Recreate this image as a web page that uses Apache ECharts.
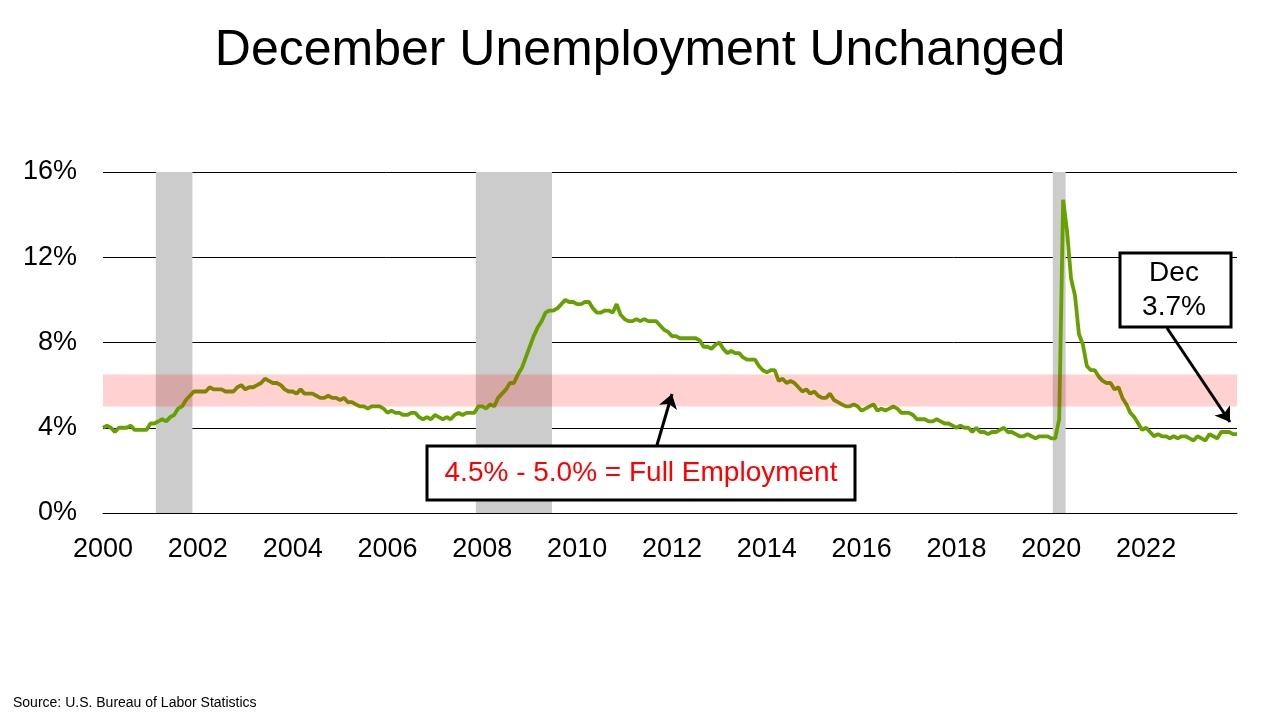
<!DOCTYPE html>
<html>
<head>
<meta charset="utf-8">
<title>December Unemployment Unchanged</title>
<script src="https://cdn.jsdelivr.net/npm/echarts@6/dist/echarts.min.js"></script>
<style>
  html, body { margin: 0; padding: 0; background: #fff; }
  #main { width: 1280px; height: 720px; }
</style>
</head>
<body>
<div id="main"></div>
<script>
// 月度失业率 2000-01 ~ 2023-12, %
var unrate = [
  4.0, 4.1, 4.0, 3.8, 4.0, 4.0, 4.0, 4.1, 3.9, 3.9, 3.9, 3.9, // 2000
  4.2, 4.2, 4.3, 4.4, 4.3, 4.5, 4.6, 4.9, 5.0, 5.3, 5.5, 5.7, // 2001
  5.7, 5.7, 5.7, 5.9, 5.8, 5.8, 5.8, 5.7, 5.7, 5.7, 5.9, 6.0, // 2002
  5.8, 5.9, 5.9, 6.0, 6.1, 6.3, 6.2, 6.1, 6.1, 6.0, 5.8, 5.7, // 2003
  5.7, 5.6, 5.8, 5.6, 5.6, 5.6, 5.5, 5.4, 5.4, 5.5, 5.4, 5.4, // 2004
  5.3, 5.4, 5.2, 5.2, 5.1, 5.0, 5.0, 4.9, 5.0, 5.0, 5.0, 4.9, // 2005
  4.7, 4.8, 4.7, 4.7, 4.6, 4.6, 4.7, 4.7, 4.5, 4.4, 4.5, 4.4, // 2006
  4.6, 4.5, 4.4, 4.5, 4.4, 4.6, 4.7, 4.6, 4.7, 4.7, 4.7, 5.0, // 2007
  5.0, 4.9, 5.1, 5.0, 5.4, 5.6, 5.8, 6.1, 6.1, 6.5, 6.8, 7.3, // 2008
  7.8, 8.3, 8.7, 9.0, 9.4, 9.5, 9.5, 9.6, 9.8, 10.0, 9.9, 9.9, // 2009
  9.8, 9.8, 9.9, 9.9, 9.6, 9.4, 9.4, 9.5, 9.5, 9.4, 9.8, 9.3, // 2010
  9.1, 9.0, 9.0, 9.1, 9.0, 9.1, 9.0, 9.0, 9.0, 8.8, 8.6, 8.5, // 2011
  8.3, 8.3, 8.2, 8.2, 8.2, 8.2, 8.2, 8.1, 7.8, 7.8, 7.7, 7.9, // 2012
  8.0, 7.7, 7.5, 7.6, 7.5, 7.5, 7.3, 7.2, 7.2, 7.2, 6.9, 6.7, // 2013
  6.6, 6.7, 6.7, 6.2, 6.3, 6.1, 6.2, 6.1, 5.9, 5.7, 5.8, 5.6, // 2014
  5.7, 5.5, 5.4, 5.4, 5.6, 5.3, 5.2, 5.1, 5.0, 5.0, 5.1, 5.0, // 2015
  4.8, 4.9, 5.0, 5.1, 4.8, 4.9, 4.8, 4.9, 5.0, 4.9, 4.7, 4.7, // 2016
  4.7, 4.6, 4.4, 4.4, 4.4, 4.3, 4.3, 4.4, 4.3, 4.2, 4.2, 4.1, // 2017
  4.0, 4.1, 4.0, 4.0, 3.8, 4.0, 3.8, 3.8, 3.7, 3.8, 3.8, 3.9, // 2018
  4.0, 3.8, 3.8, 3.7, 3.6, 3.6, 3.7, 3.6, 3.5, 3.6, 3.6, 3.6, // 2019
  3.5, 3.5, 4.4, 14.7, 13.2, 11.0, 10.2, 8.4, 7.9, 6.9, 6.7, 6.7, // 2020
  6.4, 6.2, 6.1, 6.1, 5.8, 5.9, 5.4, 5.1, 4.7, 4.5, 4.2, 3.9, // 2021
  4.0, 3.8, 3.6, 3.7, 3.6, 3.6, 3.5, 3.6, 3.5, 3.6, 3.6, 3.5, // 2022
  3.4, 3.6, 3.5, 3.4, 3.7, 3.6, 3.5, 3.8, 3.8, 3.8, 3.7, 3.7  // 2023
];
var firstYear = 2000, lastYear = 2023;
// 衰退期（起止月份）
var recessions = [['2001-03', '2001-11'], ['2007-12', '2009-06'], ['2020-02', '2020-04']];
var band = [5.0, 6.5]; // 粉色区间
var yTicks = { min: 0, max: 16, interval: 4 };

var months = [];
for (var y = firstYear; y <= lastYear; y++) {
  for (var m = 1; m <= 12; m++) {
    months.push(y + '-' + (m < 10 ? '0' + m : m));
  }
}
var recessionBars = months.map(function (mo) {
  for (var i = 0; i < recessions.length; i++) {
    if (mo >= recessions[i][0] && mo <= recessions[i][1]) return yTicks.max;
  }
  return '-';
});

var font = "'Liberation Sans', Arial, sans-serif";
var myChart = echarts.init(document.getElementById('main'));
var option = {
  animation: false,
  backgroundColor: '#ffffff',
  title: {
    text: 'December Unemployment Unchanged',
    left: 'center',
    top: 21,
    textStyle: { fontFamily: font, fontSize: 50, fontWeight: 'normal', color: '#000' }
  },
  grid: { left: 103, right: 43, top: 172, bottom: 207, containLabel: false },
  xAxis: {
    type: 'category',
    data: months,
    boundaryGap: false,
    axisLine: { lineStyle: { color: '#000', width: 1 } },
    axisTick: { show: false },
    axisLabel: {
      interval: 23,
      margin: 23,
      fontFamily: font,
      fontSize: 27,
      color: '#000',
      formatter: function (v) { return v.slice(0, 4); }
    },
    splitLine: { show: false }
  },
  yAxis: {
    type: 'value',
    min: yTicks.min,
    max: yTicks.max,
    interval: yTicks.interval,
    axisLine: { show: false },
    axisTick: { show: false },
    axisLabel: { margin: 26, fontFamily: font, fontSize: 27, color: '#000', formatter: '{value}%' },
    splitLine: { lineStyle: { color: '#000', width: 1 } }
  },
  series: [
    {
      name: 'Recession',
      type: 'bar',
      data: recessionBars,
      barWidth: 5,
      itemStyle: { color: '#cccccc' },
      silent: true,
      z: 1
    },
    {
      name: 'Unemployment Rate',
      type: 'line',
      data: unrate,
      symbol: 'none',
      lineStyle: { color: '#66a100', width: 3.8 },
      z: 2,
      markArea: {
        silent: true,
        z: 3,
        itemStyle: { color: 'rgba(255, 0, 0, 0.18)' },
        data: [[{ yAxis: band[0] }, { yAxis: band[1] }]]
      },
      markLine: {
        silent: true,
        z: 6,
        symbol: ['none', 'arrow'],
        symbolSize: 14,
        label: { show: false },
        lineStyle: { color: '#000', width: 3, type: 'solid' },
        data: [
          [{ x: 657, y: 445 }, { x: 672, y: 394 }],
          [{ x: 1167, y: 328 }, { x: 1230, y: 422 }]
        ]
      }
    }
  ],
  graphic: [
    {
      type: 'rect',
      z: 100,
      shape: { x: 427, y: 446, width: 428, height: 54 },
      style: { fill: '#fff', stroke: '#000', lineWidth: 3 }
    },
    {
      type: 'text',
      z: 101,
      x: 641, y: 473,
      style: {
        text: '4.5% - 5.0% = Full Employment',
        fill: '#ff0000',
        font: '28px ' + font,
        textAlign: 'center',
        textVerticalAlign: 'middle'
      }
    },
    {
      type: 'rect',
      z: 100,
      shape: { x: 1120, y: 253, width: 111, height: 74 },
      style: { fill: '#fff', stroke: '#000', lineWidth: 3 }
    },
    {
      type: 'text',
      z: 101,
      x: 1174, y: 290,
      style: {
        text: 'Dec\n3.7%',
        fill: '#000',
        font: '28px ' + font,
        lineHeight: 34,
        textAlign: 'center',
        textVerticalAlign: 'middle'
      }
    },
    {
      type: 'text',
      z: 100,
      x: 13, y: 703,
      style: {
        text: 'Source: U.S. Bureau of Labor Statistics',
        fill: '#000',
        font: '14px ' + font,
        textAlign: 'left',
        textVerticalAlign: 'middle'
      }
    }
  ]
};
myChart.setOption(option);
</script>
</body>
</html>
